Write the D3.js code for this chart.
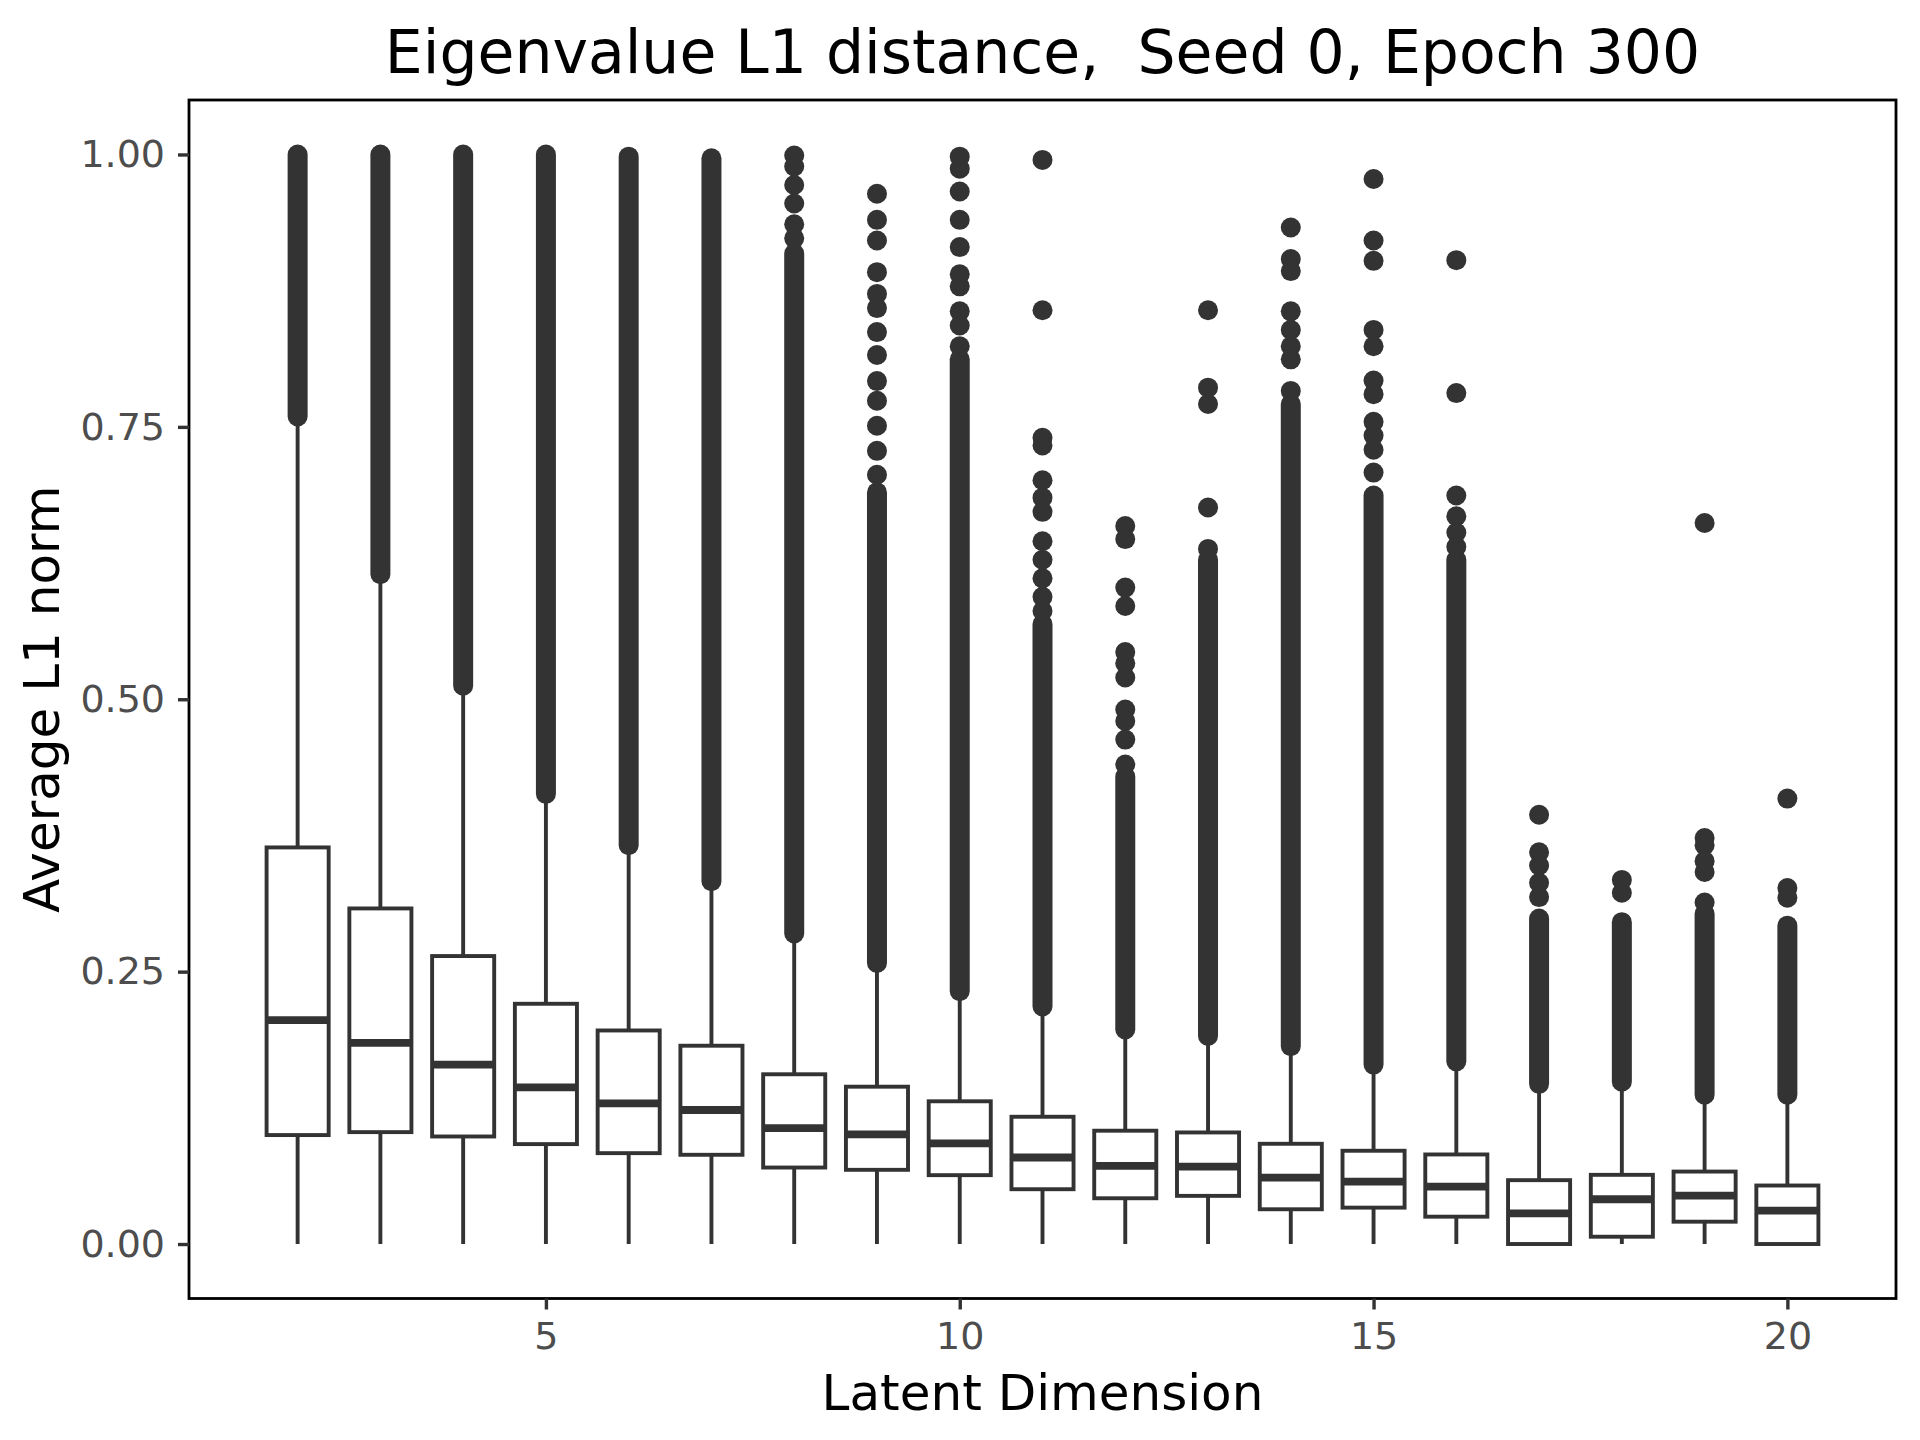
<!DOCTYPE html>
<html>
<head>
<meta charset="utf-8">
<script src="https://cdn.jsdelivr.net/npm/d3@7"></script>
<style>
  html, body { margin: 0; padding: 0; background: #ffffff; }
  svg { display: block; font-family: "DejaVu Sans", sans-serif; }
  .axis text { font-family: "DejaVu Sans", sans-serif; font-size: 38px; fill: #4d4d4d; }
</style>
</head>
<body>
<svg id="chart" width="1920" height="1440"></svg>
<script>
// ---- data ----
const dims      = [2, 3, 4, 5, 6, 7, 8, 9, 10, 11, 12, 13, 14, 15, 16, 17, 18, 19, 20];
const q1        = [0.100, 0.1027, 0.0987, 0.0917, 0.0834, 0.0819, 0.0702, 0.0681, 0.0632, 0.0503, 0.042, 0.0442, 0.0319, 0.0334, 0.0251, 0.000, 0.0067, 0.0205, 0.000];
const medians   = [0.2055, 0.1846, 0.1647, 0.1438, 0.129, 0.123, 0.1064, 0.1006, 0.0923, 0.0794, 0.0718, 0.0711, 0.061, 0.0573, 0.0527, 0.0282, 0.0411, 0.0445, 0.0307];
const q3        = [0.364, 0.308, 0.2643, 0.2205, 0.196, 0.182, 0.1558, 0.1444, 0.131, 0.1168, 0.104, 0.1024, 0.092, 0.0856, 0.0822, 0.0586, 0.0635, 0.0665, 0.0537];
const whiskLo   = [0, 0, 0, 0, 0, 0, 0, 0, 0, 0, 0, 0, 0, 0, 0, 0, 0, 0, 0];
const whiskHi   = [0.755, 0.61, 0.508, 0.409, 0.362, 0.329, 0.281, 0.254, 0.228, 0.214, 0.193, 0.187, 0.178, 0.161, 0.164, 0.143, 0.145, 0.133, 0.133];
// outliers packed so densely that they form a continuous column: [lowest, highest]
const denseLo   = [0.7596, 0.6147, 0.5125, 0.4132, 0.366, 0.333, 0.285, 0.258, 0.232, 0.218, 0.197, 0.191, 0.1815, 0.1647, 0.1677, 0.147, 0.149, 0.137, 0.137];
const denseHi   = [1.000, 1.000, 1.000, 1.000, 0.998, 0.9965, 0.909, 0.690, 0.812, 0.569, 0.429, 0.628, 0.771, 0.687, 0.628, 0.2987, 0.2954, 0.303, 0.2922];
// separately visible outliers above the dense columns
const sparseOutliers = [
  [], [], [], [], [], [],
  [0.999, 0.989, 0.972, 0.955, 0.936, 0.923],
  [0.964, 0.940, 0.921, 0.892, 0.872, 0.859, 0.837, 0.816, 0.792, 0.774, 0.751, 0.728, 0.706],
  [0.998, 0.987, 0.966, 0.940, 0.915, 0.890, 0.879, 0.856, 0.843, 0.824],
  [0.995, 0.857, 0.740, 0.733, 0.701, 0.685, 0.672, 0.645, 0.628, 0.611, 0.594, 0.581],
  [0.659, 0.647, 0.6025, 0.5856, 0.5433, 0.533, 0.520, 0.4905, 0.480, 0.463, 0.440],
  [0.857, 0.786, 0.771, 0.676, 0.638],
  [0.933, 0.904, 0.893, 0.856, 0.839, 0.824, 0.812, 0.783],
  [0.9775, 0.921, 0.9024, 0.839, 0.824, 0.7925, 0.780, 0.7546, 0.742, 0.729, 0.708],
  [0.903, 0.781, 0.687, 0.668, 0.653, 0.640],
  [0.394, 0.3595, 0.3474, 0.3316, 0.3184],
  [0.3342, 0.3224],
  [0.6618, 0.3727, 0.366, 0.3514, 0.3414, 0.3134],
  [0.4088, 0.3267, 0.3178]
];
const xTicks = [5, 10, 15, 20];
const yTicks = [0, 0.25, 0.5, 0.75, 1.0];
const titleText = "Eigenvalue L1 distance,  Seed 0, Epoch 300";
const xTitle = "Latent Dimension";
const yTitle = "Average L1 norm";

// ---- layout ----
const W = 1920, H = 1440;
const panel = { left: 189, right: 1896, top: 100, bottom: 1298.5 };
const dark = "#333333";
const boxWidth = 0.75;
const pointR = 10;
const lineW = 3.9;

const svg = d3.select("#chart");
svg.append("rect").attr("width", W).attr("height", H).attr("fill", "#ffffff");

const x = d3.scaleLinear().domain([0.6875, 21.3125]).range([panel.left, panel.right]);
const y = d3.scaleLinear().domain([-0.05, 1.05]).range([panel.bottom, panel.top]);

const rows = dims.map((d, i) => ({
  dim: d, q1: q1[i], med: medians[i], q3: q3[i],
  lo: whiskLo[i], hi: whiskHi[i],
  dLo: denseLo[i], dHi: denseHi[i], out: sparseOutliers[i]
}));

const plot = svg.append("g");

// whiskers
plot.selectAll("line.whisk-up").data(rows).join("line")
  .attr("x1", d => x(d.dim)).attr("x2", d => x(d.dim))
  .attr("y1", d => y(d.q3)).attr("y2", d => y(d.hi))
  .attr("stroke", dark).attr("stroke-width", lineW);
plot.selectAll("line.whisk-lo").data(rows.filter(d => d.q1 > d.lo)).join("line")
  .attr("x1", d => x(d.dim)).attr("x2", d => x(d.dim))
  .attr("y1", d => y(d.q1)).attr("y2", d => y(d.lo))
  .attr("stroke", dark).attr("stroke-width", lineW);

// dense outlier columns (drawn as a run of touching points)
plot.selectAll("line.dense").data(rows).join("line")
  .attr("x1", d => x(d.dim)).attr("x2", d => x(d.dim))
  .attr("y1", d => y(d.dLo)).attr("y2", d => y(d.dHi))
  .attr("stroke", dark).attr("stroke-width", pointR * 2).attr("stroke-linecap", "round");

// individual outliers
const pts = rows.flatMap(d => d.out.map(v => ({ dim: d.dim, v })));
plot.selectAll("circle.out").data(pts).join("circle")
  .attr("cx", d => x(d.dim)).attr("cy", d => y(d.v)).attr("r", pointR)
  .attr("fill", dark);

// boxes
const halfW = x(boxWidth / 2) - x(0);
plot.selectAll("rect.box").data(rows).join("rect")
  .attr("x", d => x(d.dim) - halfW).attr("width", 2 * halfW)
  .attr("y", d => y(d.q3)).attr("height", d => y(d.q1) - y(d.q3))
  .attr("fill", "#ffffff").attr("stroke", dark).attr("stroke-width", lineW);
plot.selectAll("line.med").data(rows).join("line")
  .attr("x1", d => x(d.dim) - halfW).attr("x2", d => x(d.dim) + halfW)
  .attr("y1", d => y(d.med)).attr("y2", d => y(d.med))
  .attr("stroke", dark).attr("stroke-width", lineW * 2);

// panel border
svg.append("rect")
  .attr("x", panel.left).attr("y", panel.top)
  .attr("width", panel.right - panel.left).attr("height", panel.bottom - panel.top)
  .attr("fill", "none").attr("stroke", "#000000").attr("stroke-width", 2.8);

// axes
const yAxis = svg.append("g").attr("class", "axis").attr("transform", `translate(${panel.left},0)`)
  .call(d3.axisLeft(y).tickValues(yTicks).tickFormat(d3.format(".2f")).tickSize(11).tickPadding(13));
const xAxis = svg.append("g").attr("class", "axis").attr("transform", `translate(0,${panel.bottom})`)
  .call(d3.axisBottom(x).tickValues(xTicks).tickFormat(d3.format("d")).tickSize(11).tickPadding(13));
[yAxis, xAxis].forEach(a => {
  a.attr("font-size", 38).attr("font-family", "DejaVu Sans");
  a.select(".domain").remove();
  a.selectAll(".tick line").attr("stroke", dark).attr("stroke-width", 3.4);
  a.selectAll(".tick text").attr("fill", "#4d4d4d").attr("font-size", 38);
});

// titles
svg.append("text")
  .attr("x", (panel.left + panel.right) / 2).attr("y", 73)
  .attr("text-anchor", "middle").attr("fill", "#000000")
  .attr("font-size", 60).style("white-space", "pre")
  .text(titleText);
svg.append("text")
  .attr("x", (panel.left + panel.right) / 2).attr("y", 1410)
  .attr("text-anchor", "middle").attr("fill", "#000000")
  .attr("font-size", 50)
  .text(xTitle);
svg.append("text")
  .attr("transform", `translate(59,${(panel.top + panel.bottom) / 2}) rotate(-90)`)
  .attr("text-anchor", "middle").attr("fill", "#000000")
  .attr("font-size", 50)
  .text(yTitle);
</script>
</body>
</html>
